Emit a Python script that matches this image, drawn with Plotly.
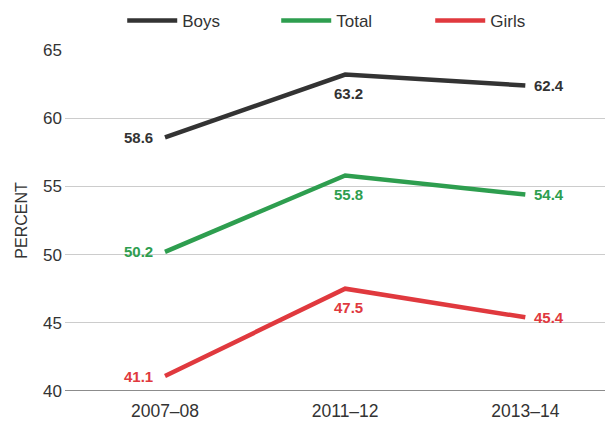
import plotly.graph_objects as go

categories = ["2007–08", "2011–12", "2013–14"]
boys = [58.6, 63.2, 62.4]
total = [50.2, 55.8, 54.4]
girls = [41.1, 47.5, 45.4]
yticks = [40, 45, 50, 55, 60, 65]

series = [("Boys", boys, "#333333"), ("Total", total, "#2e9e4f"), ("Girls", girls, "#e0393e")]

fig = go.Figure()
for name, vals, col in series:
    xs = list(range(len(categories)))
    fig.add_trace(go.Scatter(
        x=xs, y=vals, name=name, mode="lines",
        line=dict(color=col, width=4.5),
    ))
    for i, v in enumerate(vals):
        if i == 0:
            kw = dict(xanchor="right", yanchor="middle", xshift=-10, yshift=0)
        elif i == len(vals) - 1:
            kw = dict(xanchor="left", yanchor="middle", xshift=7, yshift=0)
        else:
            kw = dict(xanchor="center", yanchor="middle", xshift=3, yshift=-19)
        fig.add_annotation(x=xs[i], y=v, text=f"<b>{v:.1f}</b>", showarrow=False,
                           font=dict(color=col, size=15, family="Liberation Sans, Arial"), **kw)

# page body has an 8px default margin, so the figure is sized to fit the window
fig.update_layout(
    width=605, height=415,
    margin=dict(l=57, r=3, t=42, b=32, autoexpand=False),
    paper_bgcolor="white", plot_bgcolor="white",
    font=dict(family="Liberation Sans, Arial", color="#333333"),
    legend=dict(orientation="h", x=0.105, xanchor="left", yref="container", y=0.969, yanchor="middle",
                font=dict(size=17, color="#333333"), itemwidth=50,
                entrywidth=89, entrywidthmode="pixels", traceorder="normal"),
    showlegend=True,
)
fig.update_xaxes(
    tickmode="array", tickvals=list(range(len(categories))), ticktext=categories,
    range=[-0.555, 2.47], showgrid=False, zeroline=False, showline=False, automargin=False,
    tickfont=dict(size=17.5, color="#333333"), ticks="", ticklabelstandoff=7,
)
fig.update_yaxes(
    range=[40, 65], tickvals=yticks, showgrid=True, gridcolor="#cccccc", gridwidth=1,
    zeroline=False, showline=False, automargin=False,
    tickfont=dict(size=17, color="#333333"), ticks="", ticklabelstandoff=2,
    title=dict(text="PERCENT", font=dict(size=16, color="#333333"), standoff=11),
)
fig.add_shape(type="line", xref="paper", yref="y", x0=0, x1=1, y0=40, y1=40,
              line=dict(color="#666666", width=1.5))

fig.write_html("out.html")
